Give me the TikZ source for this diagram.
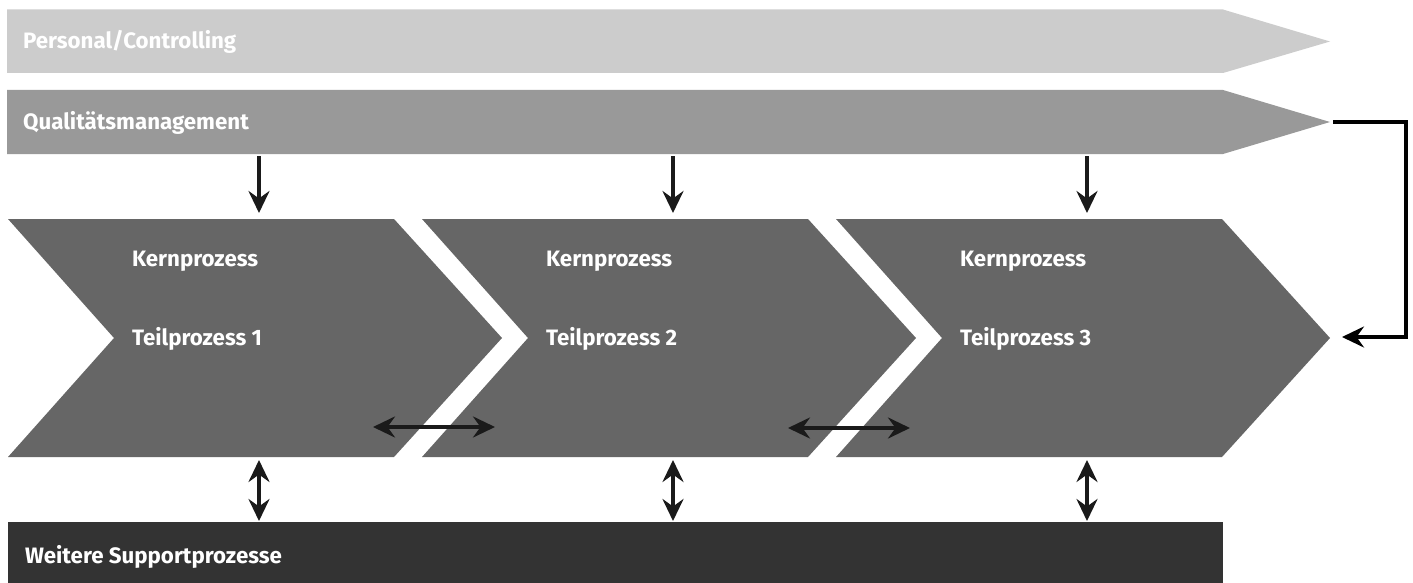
\documentclass[tikz,border=0pt]{standalone}
\usepackage{fontspec}
\setmainfont{Fira Sans}
\usetikzlibrary{arrows.meta}
\definecolor{barlight}{HTML}{CCCCCC}
\definecolor{barmid}{HTML}{999999}
\definecolor{chevron}{HTML}{666666}
\definecolor{bardark}{HTML}{333333}
\definecolor{arrowblack}{HTML}{1A1A1A}
\tikzset{
  label text/.style={text=white, font=\bfseries\fontsize{22.3}{26}\selectfont, anchor=base west, inner sep=0pt},
  head/.tip={Stealth[length=22pt,width=21pt,inset=7.5pt]},
  flow/.style={draw=arrowblack, line width=3.6pt, -{head}},
  twoway/.style={draw=arrowblack, line width=3.6pt, {head}-{head}},
  loop/.style={draw=black, line width=4pt, -{head}}
}
\begin{document}
\begin{tikzpicture}[x=1pt, y=-1pt]
\useasboundingbox (0,0) rectangle (1413,583);

% support arrows across the top
\fill[barlight] (7,9.5) -- (1223,9.5) -- (1330,41.5) -- (1223,73) -- (7,73) -- cycle;
\fill[barmid] (7,90) -- (1223,90) -- (1330,122) -- (1223,154) -- (7,154) -- cycle;
\coordinate (qm-tip) at (1333,122);
\node[label text] (pc) at (23,49) {Personal/Controlling};
\node[label text] (qm) at (23,129) {Qualitätsmanagement};

% three core process chevrons
\foreach \i/\L in {1/8, 2/422, 3/836} {
  \fill[chevron] (\L,219) -- (\L+386,219) -- (\L+494,338) -- (\L+386,457)
                 -- (\L,457) -- (\L+106,338) -- cycle;
  \node[label text] (kern\i) at (\L+124,266) {Kernprozess};
  \node[label text] (teil\i) at (\L+124,345) {Teilprozess \i};
  \coordinate (top\i) at (\L+251,213);
  \coordinate (qmout\i) at (\L+251,156);
  \coordinate (bot\i) at (\L+251,460);
  \coordinate (supin\i) at (\L+251,521);
}
\coordinate (chev3-tip) at (1342,337);

% further support processes
\fill[bardark] (8,522) rectangle (1223,583);
\node[label text] (sup) at (25,563) {Weitere Supportprozesse};

% quality management feeds each sub-process
\foreach \i in {1,2,3} {
  \draw[flow] (qmout\i) -- (top\i);
  \draw[twoway] (bot\i) -- (supin\i);
}

% exchange between neighbouring sub-processes
\coordinate (x12a) at (373,427);
\coordinate (x12b) at (495,427);
\coordinate (x23a) at (788,428);
\coordinate (x23b) at (910,428);
\draw[twoway] (x12a) -- (x12b);
\draw[twoway] (x23a) -- (x23b);

% feedback loop from quality management
\draw[loop] (qm-tip) -- (1406,122) -- (1406,337) -- (chev3-tip);
\end{tikzpicture}
\end{document}
